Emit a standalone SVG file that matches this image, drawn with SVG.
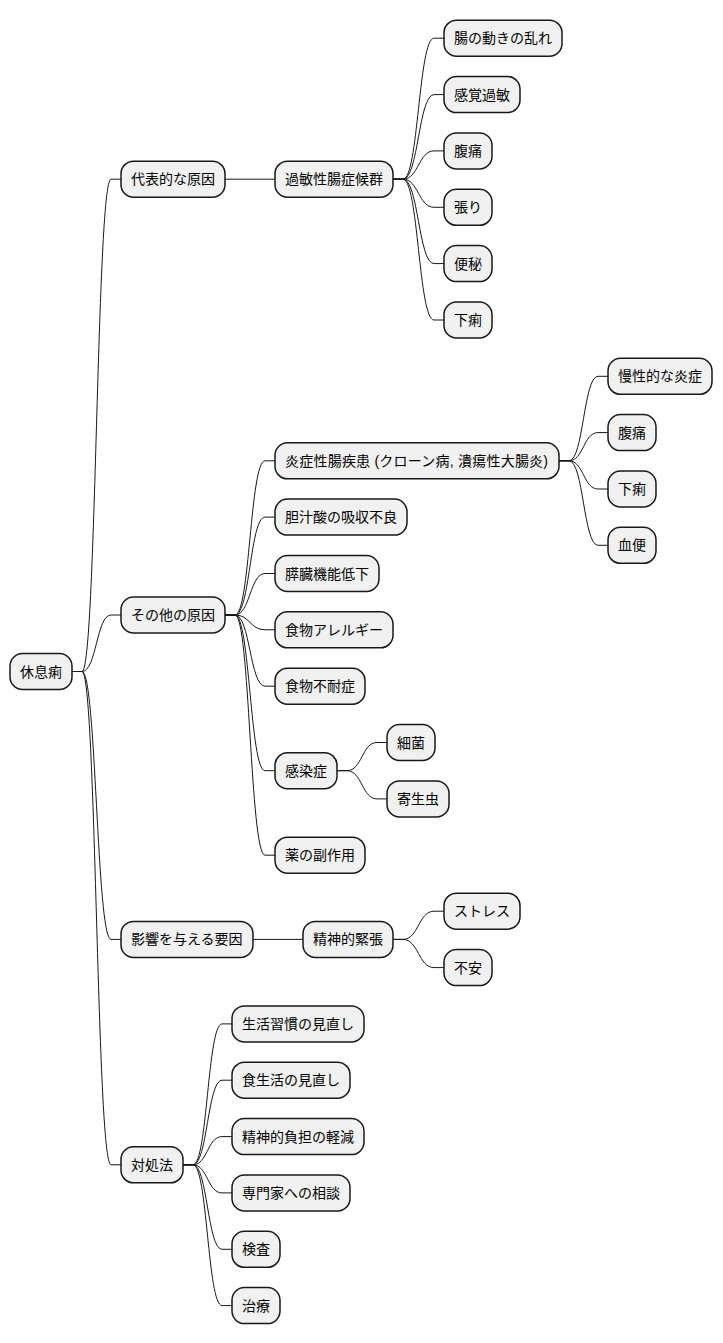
<svg xmlns="http://www.w3.org/2000/svg" width="723" height="1343" viewBox="0 0 723 1343">
<style>
.n rect{fill:#F1F1F1;stroke:#181818;stroke-width:1.5}
.n text{font-family:"Liberation Sans","Noto Sans CJK JP",sans-serif;font-size:14px;fill:#000}
.c path{fill:none;stroke:#181818;stroke-width:1}
</style>
<rect width="723" height="1343" fill="#FFFFFF"/>
<g class="c" id="connectors">
<path d="M72,671.5 H82 C96.5,671.5 96.5,179.2 111,179.2 H121"/>
<path d="M72,671.5 H82 C96.5,671.5 96.5,615 111,615 H121"/>
<path d="M72,671.5 H82 C96.5,671.5 96.5,939.4 111,939.4 H121"/>
<path d="M72,671.5 H82 C96.5,671.5 96.5,1164.8 111,1164.8 H121"/>
<path d="M225,179.2 H275"/>
<path d="M393,179.2 H403 C418.5,179.2 418.5,38.2 434,38.2 H444"/>
<path d="M393,179.2 H403 C418.5,179.2 418.5,94.6 434,94.6 H444"/>
<path d="M393,179.2 H403 C418.5,179.2 418.5,150.9 434,150.9 H444"/>
<path d="M393,179.2 H403 C418.5,179.2 418.5,207.3 434,207.3 H444"/>
<path d="M393,179.2 H403 C418.5,179.2 418.5,263.6 434,263.6 H444"/>
<path d="M393,179.2 H403 C418.5,179.2 418.5,320 434,320 H444"/>
<path d="M225,615 H235 C250,615 250,460.8 265,460.8 H275"/>
<path d="M225,615 H235 C250,615 250,517.1 265,517.1 H275"/>
<path d="M225,615 H235 C250,615 250,573.5 265,573.5 H275"/>
<path d="M225,615 H235 C250,615 250,629.8 265,629.8 H275"/>
<path d="M225,615 H235 C250,615 250,686.2 265,686.2 H275"/>
<path d="M225,615 H235 C250,615 250,770.7 265,770.7 H275"/>
<path d="M225,615 H235 C250,615 250,855.2 265,855.2 H275"/>
<path d="M559,460.8 H569 C583.5,460.8 583.5,376.3 598,376.3 H608"/>
<path d="M559,460.8 H569 C583.5,460.8 583.5,432.6 598,432.6 H608"/>
<path d="M559,460.8 H569 C583.5,460.8 583.5,489 598,489 H608"/>
<path d="M559,460.8 H569 C583.5,460.8 583.5,545.3 598,545.3 H608"/>
<path d="M337,770.7 H347 C362,770.7 362,742.5 377,742.5 H387"/>
<path d="M337,770.7 H347 C362,770.7 362,798.9 377,798.9 H387"/>
<path d="M253,939.4 H303"/>
<path d="M393,939.4 H403 C418.5,939.4 418.5,911.2 434,911.2 H444"/>
<path d="M393,939.4 H403 C418.5,939.4 418.5,967.6 434,967.6 H444"/>
<path d="M183,1164.8 H193 C207.5,1164.8 207.5,1023.9 222,1023.9 H232"/>
<path d="M183,1164.8 H193 C207.5,1164.8 207.5,1080.2 222,1080.2 H232"/>
<path d="M183,1164.8 H193 C207.5,1164.8 207.5,1136.6 222,1136.6 H232"/>
<path d="M183,1164.8 H193 C207.5,1164.8 207.5,1192.9 222,1192.9 H232"/>
<path d="M183,1164.8 H193 C207.5,1164.8 207.5,1249.3 222,1249.3 H232"/>
<path d="M183,1164.8 H193 C207.5,1164.8 207.5,1305.6 222,1305.6 H232"/>
</g>
<g class="n" id="n0"><rect x="10" y="653.5" width="62" height="36" rx="12.5"/><text x="20" y="676.5">休息痢</text></g>
<g class="n" id="n1"><rect x="121" y="161.2" width="104" height="36" rx="12.5"/><text x="131" y="184.2">代表的な原因</text></g>
<g class="n" id="n2"><rect x="275" y="161.2" width="118" height="36" rx="12.5"/><text x="285" y="184.2">過敏性腸症候群</text></g>
<g class="n" id="n3"><rect x="444" y="20.2" width="118" height="36" rx="12.5"/><text x="454" y="43.2">腸の動きの乱れ</text></g>
<g class="n" id="n4"><rect x="444" y="76.6" width="76" height="36" rx="12.5"/><text x="454" y="99.6">感覚過敏</text></g>
<g class="n" id="n5"><rect x="444" y="132.9" width="48" height="36" rx="12.5"/><text x="454" y="155.9">腹痛</text></g>
<g class="n" id="n6"><rect x="444" y="189.3" width="48" height="36" rx="12.5"/><text x="454" y="212.3">張り</text></g>
<g class="n" id="n7"><rect x="444" y="245.6" width="48" height="36" rx="12.5"/><text x="454" y="268.6">便秘</text></g>
<g class="n" id="n8"><rect x="444" y="302" width="48" height="36" rx="12.5"/><text x="454" y="325">下痢</text></g>
<g class="n" id="n9"><rect x="121" y="597" width="104" height="36" rx="12.5"/><text x="131" y="620">その他の原因</text></g>
<g class="n" id="n10"><rect x="275" y="442.8" width="284" height="36" rx="12.5"/><text x="285" y="465.8" textLength="263" lengthAdjust="spacing">炎症性腸疾患 (クローン病, 潰瘍性大腸炎)</text></g>
<g class="n" id="n11"><rect x="608" y="358.3" width="104" height="36" rx="12.5"/><text x="618" y="381.3">慢性的な炎症</text></g>
<g class="n" id="n12"><rect x="608" y="414.6" width="48" height="36" rx="12.5"/><text x="618" y="437.6">腹痛</text></g>
<g class="n" id="n13"><rect x="608" y="471" width="48" height="36" rx="12.5"/><text x="618" y="494">下痢</text></g>
<g class="n" id="n14"><rect x="608" y="527.3" width="48" height="36" rx="12.5"/><text x="618" y="550.3">血便</text></g>
<g class="n" id="n15"><rect x="275" y="499.1" width="132" height="36" rx="12.5"/><text x="285" y="522.1">胆汁酸の吸収不良</text></g>
<g class="n" id="n16"><rect x="275" y="555.5" width="104" height="36" rx="12.5"/><text x="285" y="578.5">膵臓機能低下</text></g>
<g class="n" id="n17"><rect x="275" y="611.8" width="118" height="36" rx="12.5"/><text x="285" y="634.8">食物アレルギー</text></g>
<g class="n" id="n18"><rect x="275" y="668.2" width="90" height="36" rx="12.5"/><text x="285" y="691.2">食物不耐症</text></g>
<g class="n" id="n19"><rect x="275" y="752.7" width="62" height="36" rx="12.5"/><text x="285" y="775.7">感染症</text></g>
<g class="n" id="n20"><rect x="387" y="724.5" width="48" height="36" rx="12.5"/><text x="397" y="747.5">細菌</text></g>
<g class="n" id="n21"><rect x="387" y="780.9" width="62" height="36" rx="12.5"/><text x="397" y="803.9">寄生虫</text></g>
<g class="n" id="n22"><rect x="275" y="837.2" width="90" height="36" rx="12.5"/><text x="285" y="860.2">薬の副作用</text></g>
<g class="n" id="n23"><rect x="121" y="921.4" width="132" height="36" rx="12.5"/><text x="131" y="944.4">影響を与える要因</text></g>
<g class="n" id="n24"><rect x="303" y="921.4" width="90" height="36" rx="12.5"/><text x="313" y="944.4">精神的緊張</text></g>
<g class="n" id="n25"><rect x="444" y="893.2" width="76" height="36" rx="12.5"/><text x="454" y="916.2">ストレス</text></g>
<g class="n" id="n26"><rect x="444" y="949.6" width="48" height="36" rx="12.5"/><text x="454" y="972.6">不安</text></g>
<g class="n" id="n27"><rect x="121" y="1146.8" width="62" height="36" rx="12.5"/><text x="131" y="1169.8">対処法</text></g>
<g class="n" id="n28"><rect x="232" y="1005.9" width="132" height="36" rx="12.5"/><text x="242" y="1028.9">生活習慣の見直し</text></g>
<g class="n" id="n29"><rect x="232" y="1062.2" width="118" height="36" rx="12.5"/><text x="242" y="1085.2">食生活の見直し</text></g>
<g class="n" id="n30"><rect x="232" y="1118.6" width="132" height="36" rx="12.5"/><text x="242" y="1141.6">精神的負担の軽減</text></g>
<g class="n" id="n31"><rect x="232" y="1174.9" width="118" height="36" rx="12.5"/><text x="242" y="1197.9">専門家への相談</text></g>
<g class="n" id="n32"><rect x="232" y="1231.3" width="48" height="36" rx="12.5"/><text x="242" y="1254.3">検査</text></g>
<g class="n" id="n33"><rect x="232" y="1287.6" width="48" height="36" rx="12.5"/><text x="242" y="1310.6">治療</text></g>
</svg>
